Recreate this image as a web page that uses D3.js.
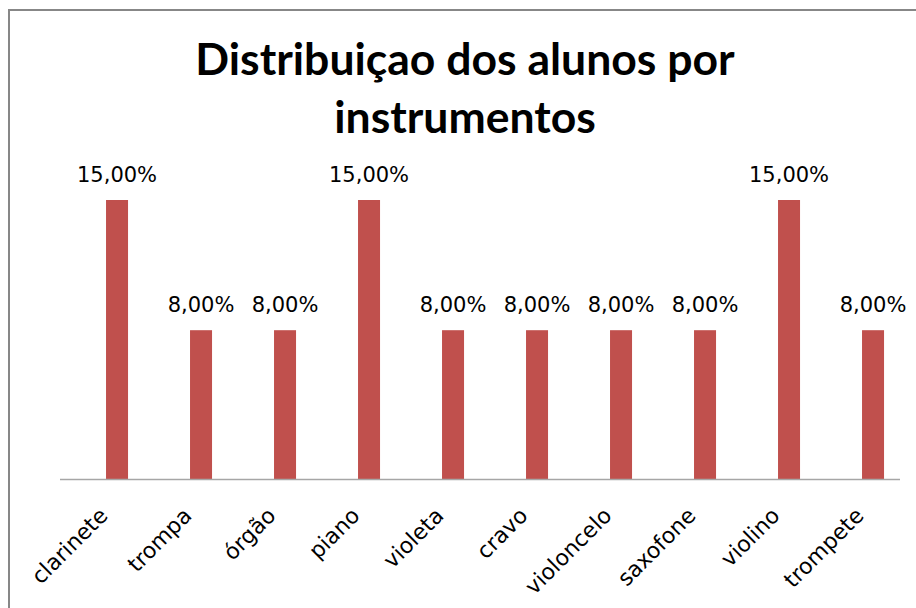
<!DOCTYPE html>
<html>
<head>
<meta charset="utf-8">
<script src="https://cdn.jsdelivr.net/npm/d3@7"></script>
<style>
  body { margin: 0; background: #fff; }
  svg { display: block; }
</style>
</head>
<body>
<div id="chart"></div>
<script>
var categories = ["clarinete", "trompa", "órgão", "piano", "violeta", "cravo", "violoncelo", "saxofone", "violino", "trompete"];
var values = [0.15, 0.08, 0.08, 0.15, 0.08, 0.08, 0.08, 0.08, 0.15, 0.08];
var titleLines = ["Distribuiçao dos alunos por", "instrumentos"];

var width = 916,
  height = 608,
  plot = { left: 60, right: 900, base: 479 };

var svg = d3.select("#chart").append("svg")
  .attr("width", width)
  .attr("height", height);

// outer chart frame (cropped at right and bottom)
svg.append("rect")
  .attr("x", 9)
  .attr("y", 10)
  .attr("width", 940)
  .attr("height", 640)
  .attr("fill", "none")
  .attr("stroke", "#878787")
  .attr("stroke-width", 2);

var x = d3.scaleBand()
  .domain(categories)
  .range([plot.left, plot.right]);

var y = d3.scaleLinear()
  .domain([0, 0.15])
  .range([plot.base, 200]);

var fmt = function(v) {
  return d3.format(".2f")(v * 100).replace(".", ",") + "%";
};

// bars sit right of the category centre (empty first series in the source)
var barW = x.bandwidth() * 0.262,
  barOff = x.bandwidth() * 0.548;

svg.append("g")
  .selectAll("rect")
  .data(values)
  .join("rect")
  .attr("x", (d, i) => x(categories[i]) + barOff)
  .attr("y", d => y(d))
  .attr("width", barW)
  .attr("height", d => y(0) - y(d))
  .attr("fill", "#C0504D");

svg.append("line")
  .attr("x1", plot.left)
  .attr("x2", plot.right)
  .attr("y1", plot.base + 0.5)
  .attr("y2", plot.base + 0.5)
  .attr("stroke", "#A6A6A6")
  .attr("stroke-width", 1.5);

svg.append("g")
  .selectAll("text")
  .data(values)
  .join("text")
  .attr("x", (d, i) => x(categories[i]) + barOff + barW / 2)
  .attr("y", d => y(d) - 18)
  .attr("text-anchor", "middle")
  .attr("font-family", "DejaVu Sans")
  .attr("font-size", 21)
  .attr("fill", "#000")
  .text(fmt);

svg.append("g")
  .selectAll("text")
  .data(categories)
  .join("text")
  .attr("transform", d => "translate(" + (x(d) + barOff + barW / 2 - 8) + "," + (plot.base + 38) + ") rotate(-45)")
  .attr("text-anchor", "end")
  .attr("font-family", "DejaVu Sans")
  .attr("font-size", 22)
  .attr("fill", "#000")
  .text(d => d);

svg.append("g")
  .selectAll("text")
  .data(titleLines)
  .join("text")
  .attr("x", 465)
  .attr("y", (d, i) => 75 + i * 58)
  .attr("text-anchor", "middle")
  .attr("font-family", "Lato")
  .attr("font-weight", "bold")
  .attr("font-size", 44.5)
  .attr("fill", "#000")
  .text(d => d);
</script>
</body>
</html>
